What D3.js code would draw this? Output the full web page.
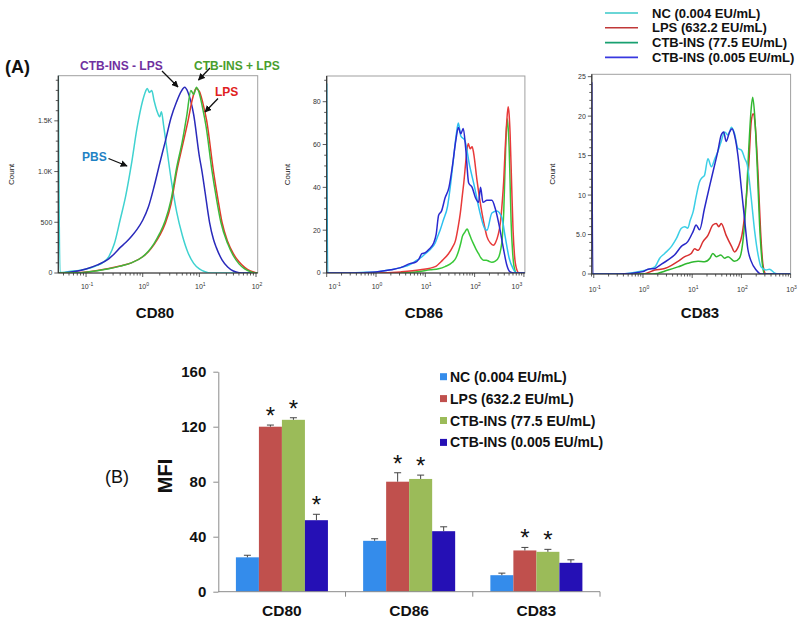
<!DOCTYPE html>
<html><head><meta charset="utf-8">
<script src="https://cdn.jsdelivr.net/npm/d3@7"></script>
<style>
body{margin:0;background:#fff}
svg{display:block}
text{font-family:Arial,"Liberation Sans",Helvetica,sans-serif}
</style>
</head><body>
<svg id="c" width="800" height="622"></svg>
<script>
// ---------- Panel A data: [log10 fluorescence, count] ----------
const cd80Pbs = [[-1.49,2000],[-1.46,5],[-1.3,15],[-1.1,28],[-1.0,40],[-0.9,55],[-0.8,75],[-0.7,105],[-0.6,160],[-0.5,290],[-0.4,520],[-0.3,760],[-0.2,1070],[-0.1,1430],[0.0,1700],[0.05,1790],[0.08,1820],[0.12,1780],[0.16,1800],[0.2,1700],[0.25,1600],[0.3,1540],[0.33,1590],[0.37,1450],[0.42,1250],[0.5,930],[0.6,600],[0.7,370],[0.8,200],[0.9,95],[1.0,40],[1.1,12],[1.2,0],[2.03,0]];
const cd80CtbMinus = [[-1.49,0],[-1.3,8],[-1.1,25],[-1.0,40],[-0.8,80],[-0.6,140],[-0.5,190],[-0.4,250],[-0.3,300],[-0.2,360],[-0.1,430],[0.0,520],[0.1,650],[0.2,850],[0.3,1080],[0.4,1300],[0.5,1530],[0.6,1690],[0.68,1790],[0.74,1830],[0.8,1780],[0.9,1560],[1.0,1150],[1.05,990],[1.1,800],[1.18,500],[1.25,330],[1.3,250],[1.4,130],[1.5,60],[1.6,20],[1.7,3],[1.8,0],[2.03,0]];
const cd80Lps = [[-1.49,0],[-1.2,3],[-1.0,10],[-0.8,25],[-0.6,45],[-0.4,70],[-0.2,100],[0.0,160],[0.1,210],[0.2,280],[0.3,370],[0.4,490],[0.5,680],[0.6,1000],[0.7,1250],[0.8,1500],[0.88,1720],[0.94,1820],[1.0,1790],[1.06,1680],[1.13,1500],[1.25,1000],[1.33,720],[1.4,500],[1.5,310],[1.6,190],[1.7,110],[1.8,55],[1.9,20],[2.0,3],[2.03,0]];
const cd80CtbPlus = [[-1.49,0],[-1.2,2],[-1.0,8],[-0.8,22],[-0.6,42],[-0.4,68],[-0.2,100],[0.0,160],[0.1,215],[0.2,290],[0.3,390],[0.4,520],[0.5,720],[0.6,1040],[0.7,1300],[0.78,1560],[0.85,1800],[0.9,1760],[0.95,1830],[1.0,1770],[1.06,1620],[1.12,1440],[1.22,1020],[1.3,740],[1.38,500],[1.5,290],[1.6,170],[1.7,90],[1.8,40],[1.9,12],[2.0,0],[2.03,0]];

const cd86Nc = [[-1.0,88.5],[-0.98,0],[-0.5,0],[-0.2,0.3],[0.0,0.5],[0.3,1.5],[0.5,2.5],[0.7,4],[0.8,5.5],[0.9,7],[1.0,9],[1.1,11],[1.2,14],[1.25,17],[1.3,20],[1.37,25],[1.45,31],[1.5,39],[1.57,53],[1.63,65],[1.67,70],[1.72,64],[1.8,62],[1.9,50],[2.0,40],[2.1,29],[2.2,21],[2.25,20],[2.35,28],[2.45,29],[2.55,26],[2.62,17],[2.7,7],[2.78,2],[2.85,0],[3.02,0]];
const cd86Lps = [[-1.0,0],[0.0,0],[0.5,0.5],[0.9,1.5],[1.2,3],[1.35,6],[1.47,9],[1.55,12],[1.61,15],[1.67,22],[1.71,28],[1.75,36],[1.78,42],[1.83,54],[1.87,60.5],[1.91,58],[1.95,59],[1.98,56],[2.05,43],[2.1,35],[2.15,28],[2.2,22],[2.25,17],[2.32,14],[2.38,13],[2.42,14],[2.48,18],[2.52,23],[2.56,33],[2.59,43],[2.62,58],[2.65,70],[2.68,77.6],[2.7,74],[2.72,65],[2.75,42],[2.78,20],[2.81,8],[2.85,2],[2.9,0],[3.02,0]];
const cd86CtbHigh = [[-1.0,0],[0.3,0],[0.8,0.5],[1.1,1.5],[1.27,2],[1.4,3],[1.55,5],[1.62,7],[1.68,10.6],[1.72,14],[1.75,17],[1.8,19],[1.85,20.5],[1.89,18.4],[1.93,16],[1.98,13.5],[2.03,11],[2.08,9],[2.13,7],[2.18,6],[2.24,6],[2.29,5.5],[2.35,5],[2.42,5.5],[2.49,7.5],[2.53,11],[2.56,16],[2.59,28],[2.61,43],[2.63,58],[2.66,72],[2.68,68],[2.7,59],[2.72,42],[2.74,24],[2.77,10],[2.8,3],[2.85,0],[3.02,0]];
const cd86CtbLow = [[-1.0,0],[-0.5,0],[0.0,0.5],[0.3,1.5],[0.5,2.5],[0.7,4.5],[0.8,5],[0.87,6.5],[0.93,9],[1.0,9.5],[1.07,11],[1.17,14],[1.22,18],[1.27,27],[1.33,29],[1.4,35],[1.48,40],[1.55,50],[1.62,62],[1.67,68],[1.72,65],[1.77,67.5],[1.82,58],[1.88,42],[1.95,40],[2.02,35],[2.08,33],[2.12,40],[2.17,33],[2.25,34],[2.35,34],[2.42,30],[2.5,22],[2.58,12],[2.65,4],[2.72,0.5],[2.8,0],[3.02,0]];

const cd83Nc = [[-1.04,0],[-0.5,0],[-0.1,0.3],[0.24,0.9],[0.34,2],[0.44,2.6],[0.58,3.5],[0.68,4.5],[0.78,5.8],[0.85,6],[0.91,5.8],[0.96,6.8],[1.02,7.9],[1.08,9.8],[1.15,11.7],[1.2,12.2],[1.25,12.5],[1.32,14.6],[1.39,13.6],[1.46,14.6],[1.52,15.5],[1.59,16.8],[1.66,18],[1.73,17.6],[1.8,18.6],[1.86,17.8],[1.93,15.9],[2.0,15.7],[2.07,14.6],[2.12,13.8],[2.2,9.6],[2.27,5.4],[2.34,2.4],[2.4,0.9],[2.5,0.5],[2.57,0.6],[2.68,0.1],[2.75,0],[3.0,0]];
const cd83Lps = [[-1.04,0],[0.0,0],[0.24,0.5],[0.44,0.7],[0.58,1.1],[0.71,1.6],[0.85,2.2],[0.98,2.6],[1.05,3.2],[1.12,3],[1.22,4.1],[1.32,4.9],[1.42,6.2],[1.49,6.4],[1.54,6],[1.59,6.4],[1.69,4.9],[1.8,3.5],[1.86,2.8],[1.94,3.5],[2.01,4.9],[2.08,8.3],[2.15,13.8],[2.2,19.3],[2.24,20.3],[2.28,18.9],[2.34,12.5],[2.39,5.4],[2.44,1.1],[2.5,0],[3.0,0]];
const cd83CtbHigh = [[-1.04,0],[0.2,0],[0.51,0.5],[0.71,0.9],[0.91,1.35],[1.12,1.6],[1.25,1.55],[1.36,2],[1.42,2.6],[1.49,2.2],[1.58,2.4],[1.66,2],[1.73,2.2],[1.86,1.6],[1.96,2],[2.03,4.1],[2.1,9.6],[2.15,15.9],[2.2,21],[2.23,22.4],[2.27,20.1],[2.32,13.8],[2.37,6.2],[2.42,1.6],[2.47,0],[3.0,0]];
const cd83CtbLow = [[-1.04,24.3],[-1.02,0],[-0.5,0],[0.0,0.3],[0.1,0.6],[0.24,0.7],[0.34,1.1],[0.51,1.8],[0.64,2.4],[0.78,3.5],[0.91,4.1],[1.02,5.4],[1.08,6.2],[1.15,5.6],[1.25,8.3],[1.36,11.3],[1.44,13.4],[1.52,15.5],[1.59,17.6],[1.64,18],[1.69,16.8],[1.76,18],[1.81,18.4],[1.86,17.6],[1.93,15],[2.0,10.8],[2.07,6.6],[2.13,3.2],[2.2,1.6],[2.3,0.5],[2.4,0],[3.0,0]];

const cd80YTicks = [0, 500, 1000, 1500];
const cd80YTickLabels = ["0", "500", "1.0K", "1.5K"];
const cd86YTicks = [0, 20, 40, 60, 80];
const cd86YTickLabels = ["0", "20", "40", "60", "80"];
const cd83YTicks = [0, 5, 10, 15, 20, 25];
const cd83YTickLabels = ["0", "5.0", "10", "15", "20", "25"];

const legendALabels = ["NC (0.004 EU/mL)", "LPS (632.2 EU/mL)", "CTB-INS (77.5 EU/mL)", "CTB-INS (0.005 EU/mL)"];

// ---------- Panel B data ----------
const mfiCategories = ["CD80", "CD86", "CD83"];
const mfiSeries = ["NC (0.004 EU/mL)", "LPS (632.2 EU/mL)", "CTB-INS (77.5 EU/mL)", "CTB-INS (0.005 EU/mL)"];
const mfiNC = [25, 37, 12];
const mfiLPS = [120, 80, 30];
const mfiCtbHigh = [125, 82, 29];
const mfiCtbLow = [52, 44, 21];
const errNC = [1.5, 1.5, 1.5];
const errLPS = [1.2, 6.5, 2.2];
const errCtbHigh = [1.5, 2.8, 1.8];
const errCtbLow = [4.3, 3.2, 2.2];
const sigNC = [false, false, false];
const sigLPS = [true, true, true];
const sigCtbHigh = [true, true, true];
const sigCtbLow = [true, false, false];
const mfiTicks = [0, 40, 80, 120, 160];

const svg = d3.select("#c");
const defs = svg.append("defs");
defs.append("marker").attr("id","arr").attr("viewBox","0 0 10 10").attr("refX",9).attr("refY",5)
  .attr("markerWidth",7).attr("markerHeight",7).attr("markerUnits","userSpaceOnUse").attr("orient","auto")
  .append("path").attr("d","M0,0L10,5L0,10z").attr("fill","#111");

function drawFlow(p){
  const x = d3.scaleLinear().domain(p.xDomain).range([p.left, p.right]);
  const y = d3.scaleLinear().domain(p.yDomain).range([p.bottom, p.top]);
  const g = svg.append("g");
  defs.append("clipPath").attr("id","clip"+p.id).append("rect")
    .attr("x",p.left).attr("y",p.top).attr("width",p.right-p.left).attr("height",p.bottom-p.top);
  g.append("rect").attr("x",p.left).attr("y",p.top).attr("width",p.right-p.left).attr("height",p.bottom-p.top)
    .attr("fill","none").attr("stroke","#a0a0a0").attr("stroke-width",1);
  const line = d3.line().x(d=>x(d[0])).y(d=>y(d[1])).curve(d3.curveMonotoneX);
  p.series.forEach(s=>{
    g.append("path").attr("d",line(s.data)).attr("fill","none").attr("stroke",s.color)
      .attr("stroke-width",1.5).attr("stroke-linejoin","round").attr("clip-path","url(#clip"+p.id+")");
  });
  g.append("line").attr("x1",p.left).attr("x2",p.left).attr("y1",p.top).attr("y2",p.bottom).attr("stroke","#333").attr("stroke-width",1.2);
  g.append("line").attr("x1",p.left).attr("x2",p.right).attr("y1",p.bottom).attr("y2",p.bottom).attr("stroke","#333").attr("stroke-width",1.2);
  const minor = d3.range(0, p.yDomain[1]+1e-9, p.yMinor);
  minor.forEach(v=>{
    const major = p.yTicks.some(t=>Math.abs(t-v)<1e-9);
    g.append("line").attr("x1",p.left-(major?4:2.5)).attr("x2",p.left).attr("y1",y(v)).attr("y2",y(v))
      .attr("stroke","#333").attr("stroke-width",0.8);
  });
  p.yTicks.forEach((v,i)=>{
    g.append("text").attr("x",p.left-6).attr("y",y(v)).attr("dy","0.35em").attr("text-anchor","end")
      .attr("font-size",7).attr("fill","#333").text(p.yLabels[i]);
  });
  for(let n=Math.floor(p.xDomain[0]); n<=Math.ceil(p.xDomain[1]); n++){
    for(let k=1;k<=9;k++){
      const v = n + Math.log10(k);
      if(v < p.xDomain[0]-0.02 || v > p.xDomain[1]+0.02) continue;
      const major = k===1;
      g.append("line").attr("x1",x(v)).attr("x2",x(v)).attr("y1",p.bottom).attr("y2",p.bottom+(major?4:2.5))
        .attr("stroke","#333").attr("stroke-width",0.8);
    }
  }
  p.xLabels.forEach(n=>{
    let lx = x(n)+1;
    if(p.clampLabels) lx = Math.max(p.left+8, Math.min(p.right-8, lx));
    const t = g.append("text").attr("x",lx).attr("y",p.bottom+p.xLabelOff).attr("text-anchor","middle")
      .attr("font-size",7).attr("fill","#333");
    t.append("tspan").text("10");
    t.append("tspan").attr("font-size",5).attr("dy",-3).text(String(n).replace("-","\u2010"));
  });
  g.append("text").attr("transform",`translate(${p.countX},${(p.top+p.bottom)/2}) rotate(-90)`)
    .attr("text-anchor","middle").attr("font-size",8).attr("fill","#222").text("Count");
  g.append("text").attr("x",p.labelX).attr("y",p.labelY).attr("text-anchor","middle")
    .attr("font-size",15).attr("font-weight","bold").attr("fill","#111").text(p.label);
  return {x,y,g};
}

drawFlow({id:80,left:58.3,right:257.7,top:75.7,bottom:273,xDomain:[-1.49,2.03],yDomain:[0,1945],
  yTicks:cd80YTicks,yLabels:cd80YTickLabels,yMinor:100,xLabels:[-1,0,1,2],xLabelOff:16,countX:14,label:"CD80",labelX:155,labelY:318,
  series:[{data:cd80Pbs,color:"#3fd2d0"},{data:cd80CtbMinus,color:"#2a2abb"},{data:cd80Lps,color:"#e03a2a"},{data:cd80CtbPlus,color:"#3cba3c"}]});
drawFlow({id:86,left:326.7,right:524.9,top:76,bottom:273,xDomain:[-1.0,3.02],yDomain:[0,92],clampLabels:true,
  yTicks:cd86YTicks,yLabels:cd86YTickLabels,yMinor:5,xLabels:[-1,0,1,2,3],xLabelOff:16,countX:290,label:"CD86",labelX:424,labelY:317.5,
  series:[{data:cd86CtbHigh,color:"#38c838"},{data:cd86Lps,color:"#e83a3a"},{data:cd86Nc,color:"#2cc0f0"},{data:cd86CtbLow,color:"#2a2ad0"}]});
drawFlow({id:83,left:591.8,right:790.6,top:74.3,bottom:274,xDomain:[-1.04,3.0],yDomain:[0,25.3],
  yTicks:cd83YTicks,yLabels:cd83YTickLabels,yMinor:1,xLabels:[-1,0,1,2,3],xLabelOff:18,countX:555,label:"CD83",labelX:700,labelY:318,
  series:[{data:cd83Lps,color:"#d83030"},{data:cd83CtbHigh,color:"#30b830"},{data:cd83Nc,color:"#3ccfe6"},{data:cd83CtbLow,color:"#2828c8"}]});

// CD80 annotations
const ann = svg.append("g").attr("font-weight","bold").attr("font-size",12);
ann.append("text").attr("x",80).attr("y",69.5).attr("fill","#7030a0").text("CTB-INS - LPS");
ann.append("text").attr("x",194).attr("y",69.5).attr("fill","#4a9e2e").text("CTB-INS + LPS");
ann.append("text").attr("x",215).attr("y",96).attr("fill","#e02020").text("LPS");
ann.append("text").attr("x",82).attr("y",161).attr("fill","#1f82c4").text("PBS");
[[162,71,178,87],[210,68,198.5,80],[218,98.5,205,112],[108.5,158.5,127,166]].forEach(a=>{
  svg.append("line").attr("x1",a[0]).attr("y1",a[1]).attr("x2",a[2]).attr("y2",a[3])
    .attr("stroke","#111").attr("stroke-width",1.3).attr("marker-end","url(#arr)");
});

// Legend A
const legAColors = ["#38c8c8","#c03838","#18a070","#3838e0"];
const legA = svg.append("g");
legendALabels.forEach((l,i)=>{
  const yy = 13 + i*14.8;
  legA.append("line").attr("x1",605).attr("x2",638).attr("y1",yy).attr("y2",yy).attr("stroke",legAColors[i]).attr("stroke-width",1.6);
  legA.append("text").attr("x",652).attr("y",yy+4.6).attr("font-size",13).attr("font-weight","bold").attr("fill","#111").text(l);
});

svg.append("text").attr("x",5).attr("y",73).attr("font-size",18).attr("font-weight","bold").attr("fill","#111").text("(A)");
svg.append("text").attr("x",105).attr("y",483).attr("font-size",18).attr("fill","#111").text("(B)");

// ---------- Panel B ----------
const mfiValues = [mfiNC, mfiLPS, mfiCtbHigh, mfiCtbLow];
const mfiErrs = [errNC, errLPS, errCtbHigh, errCtbLow];
const mfiSig = [sigNC, sigLPS, sigCtbHigh, sigCtbLow];
const barColors = ["#348ceb","#c0504d","#9bbb59","#2510b5"];
const yB = d3.scaleLinear().domain([0,160]).range([591.7, 371.7]);
const x0 = d3.scaleBand().domain(mfiCategories).range([218.3, 600]).paddingInner(0).paddingOuter(0);
const x1 = d3.scaleBand().domain(mfiSeries).range([0, x0.bandwidth()]).paddingInner(0).paddingOuter(0.765);
const gB = svg.append("g");

const yAx = gB.append("g").attr("transform","translate(218.3,0)")
  .call(d3.axisLeft(yB).tickValues(mfiTicks).tickSize(5).tickSizeOuter(0).tickPadding(7));
yAx.select(".domain").attr("stroke","#8a8a8a");
yAx.selectAll(".tick line").attr("stroke","#8a8a8a");
yAx.selectAll(".tick text").attr("font-size",15).attr("font-weight","bold").attr("fill","#111")
  .attr("font-family","Arial, 'Liberation Sans', sans-serif");

mfiSeries.forEach((s,si)=>{
  mfiCategories.forEach((c,ci)=>{
    const v = mfiValues[si][ci], e = mfiErrs[si][ci];
    const bx = x0(c) + x1(s), bw = x1.bandwidth();
    gB.append("rect").attr("x",bx).attr("y",yB(v)).attr("width",bw).attr("height",yB(0)-yB(v)).attr("fill",barColors[si]);
    const cx = bx + bw/2;
    gB.append("line").attr("x1",cx).attr("x2",cx).attr("y1",yB(v)).attr("y2",yB(v+e)).attr("stroke","#444").attr("stroke-width",1);
    gB.append("line").attr("x1",cx-3.5).attr("x2",cx+3.5).attr("y1",yB(v+e)).attr("y2",yB(v+e)).attr("stroke","#444").attr("stroke-width",1);
    if(mfiSig[si][ci]){
      gB.append("text").attr("x",cx).attr("y",yB(v+e)-1).attr("text-anchor","middle")
        .attr("font-size",24).attr("fill","#111").text("*");
    }
  });
});

gB.append("line").attr("x1",218.3).attr("x2",600).attr("y1",yB(0)).attr("y2",yB(0)).attr("stroke","#8a8a8a");
mfiCategories.forEach(c=>{
  const xe = x0(c)+x0.bandwidth();
  gB.append("line").attr("x1",xe).attr("x2",xe).attr("y1",yB(0)).attr("y2",yB(0)+5).attr("stroke","#8a8a8a");
  gB.append("text").attr("x",x0(c)+x0.bandwidth()/2).attr("y",615.5).attr("text-anchor","middle")
    .attr("font-size",15.5).attr("font-weight","bold").attr("fill","#111").text(c);
});
gB.append("text").attr("transform","translate(171.5,476) rotate(-90)").attr("text-anchor","middle")
  .attr("font-size",20).attr("font-weight","bold").attr("fill","#111").text("MFI");

mfiSeries.forEach((s,i)=>{
  const yy = 376.7 + i*21.9;
  gB.append("rect").attr("x",440).attr("y",yy-3.5).attr("width",7).attr("height",7).attr("fill",barColors[i]);
  gB.append("text").attr("x",450).attr("y",yy+5).attr("font-size",14).attr("font-weight","bold").attr("fill","#111").text(s);
});
</script>
</body></html>
